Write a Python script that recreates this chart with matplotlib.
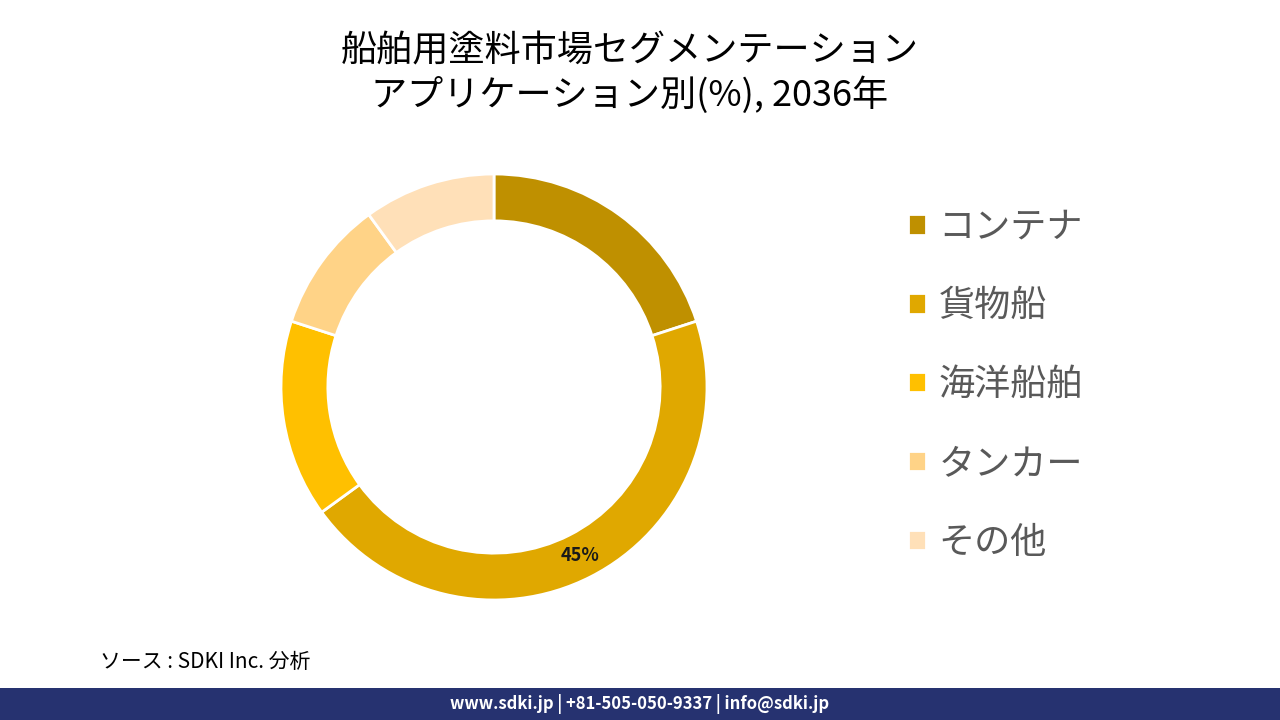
import matplotlib.pyplot as plt
from matplotlib.patches import Rectangle

plt.rcParams['font.family'] = ['Noto Sans CJK JP', 'DejaVu Sans']

# segment data (share %, 2036)
segments = ["コンテナ", "貨物船", "海洋船舶", "タンカー", "その他"]
shares = [20, 45, 15, 10, 10]
colors = ["#BF9000", "#E0A800", "#FFC000", "#FFD387", "#FFE0B8"]

title = "船舶用塗料市場セグメンテーション\nアプリケーション別(%), 2036年"
source = "ソース : SDKI Inc. 分析"
footer = "www.sdki.jp | +81-505-050-9337 | info@sdki.jp"

W, H = 1280, 720
fig = plt.figure(figsize=(12.8, 7.2), dpi=100)

# donut: centre (494, 387) px, outer radius 213 px
cx, cy, r = 494, 387, 213
ax = fig.add_axes([(cx - r) / W, (H - cy - r) / H, 2 * r / W, 2 * r / H])
wedges, texts, autotexts = ax.pie(
    shares, colors=colors, startangle=90, counterclock=False,
    radius=1.0, wedgeprops=dict(width=0.22, edgecolor="white", linewidth=2),
    autopct=lambda p: f"{p:.0f}%" if p > 40 else "", pctdistance=0.89,
    textprops=dict(fontsize=13, fontweight="bold", color="#1a1a1a"))
ax.set_xlim(-1, 1)
ax.set_ylim(-1, 1)
ax.axis("off")

fig.text(0.492, 1 - 74 / H, title, ha="center", va="center", fontsize=26,
         color="black", linespacing=1.22)

leg = fig.legend(wedges, segments, loc="center left",
                 bbox_to_anchor=(0.684, 1 - 385 / H), frameon=False,
                 fontsize=26, labelcolor="#595959", handlelength=0.5,
                 handleheight=0.5, handletextpad=0.35, labelspacing=1.19)

fig.text(100 / W, 1 - 662 / H, source, ha="left", va="center",
         fontsize=15, style="italic", color="black")

fig.patches.append(Rectangle((0, 0), 1, 32 / H, transform=fig.transFigure,
                             facecolor="#263270", edgecolor="none"))
fig.text(0.5, 16 / H, footer, ha="center", va="center", fontsize=12,
         fontweight="bold", color="white")

fig.savefig("out.png", dpi=100)
